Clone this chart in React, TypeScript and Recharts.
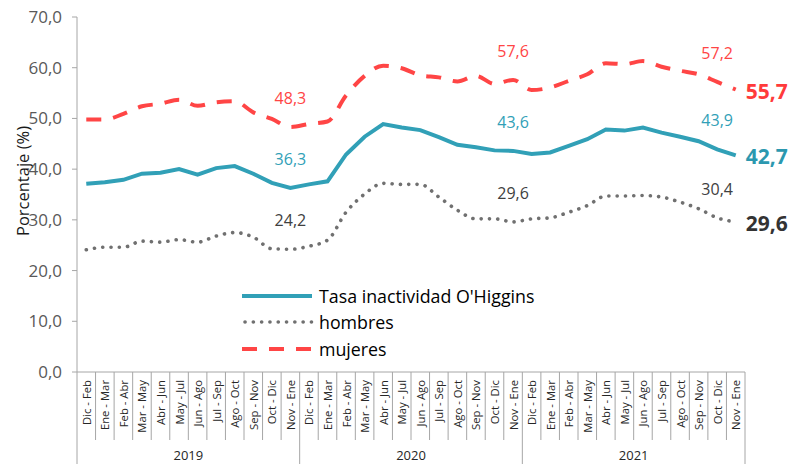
import React from "react";
import { LineChart, Line, XAxis, YAxis, Legend, LabelList } from "recharts";

const periods = [
  "Dic - Feb", "Ene - Mar", "Feb - Abr", "Mar - May", "Abr - Jun", "May - Jul",
  "Jun - Ago", "Jul - Sep", "Ago - Oct", "Sep - Nov", "Oct - Dic", "Nov - Ene",
];
const years = ["2019", "2020", "2021"];

const total = [
  37.1, 37.4, 37.9, 39.1, 39.3, 40.0, 38.9, 40.2, 40.6, 39.1, 37.3, 36.3,
  37.0, 37.6, 42.9, 46.4, 48.9, 48.2, 47.7, 46.3, 44.8, 44.3, 43.7, 43.6,
  43.0, 43.3, 44.6, 45.9, 47.8, 47.6, 48.2, 47.2, 46.4, 45.5, 43.9, 42.7,
];
const hombres = [
  24.1, 24.6, 24.6, 25.8, 25.6, 26.1, 25.6, 26.8, 27.5, 26.6, 24.3, 24.2,
  24.8, 26.0, 31.5, 35.1, 37.2, 37.0, 37.0, 34.5, 31.9, 30.2, 30.2, 29.6,
  30.2, 30.4, 31.5, 32.8, 34.7, 34.7, 34.8, 34.5, 33.5, 32.2, 30.4, 29.6,
];
const mujeres = [
  49.8, 49.8, 50.9, 52.4, 52.9, 53.7, 52.5, 53.2, 53.4, 51.2, 49.9, 48.3,
  48.9, 49.4, 54.5, 58.4, 60.4, 59.9, 58.5, 58.1, 57.3, 58.4, 56.8, 57.6,
  55.6, 56.1, 57.4, 58.7, 60.9, 60.7, 61.3, 60.2, 59.4, 58.7, 57.2, 55.7,
];
const yTicks = [0, 10, 20, 30, 40, 50, 60, 70];
const labelIdx = [11, 23, 34];
const lastIdx = 35;

const data = total.map((v, i) => ({
  key: years[Math.floor(i / 12)] + " " + periods[i % 12],
  period: periods[i % 12],
  year: years[Math.floor(i / 12)],
  total: v,
  hombres: hombres[i],
  mujeres: mujeres[i],
}));

const W = 799;
const H = 464;
const M = { top: 17, right: 54, left: 0, bottom: 0 };
const YW = 77;
const XH = 92;
const PLOT_W = W - YW - M.right;
const HALF = PLOT_W / data.length / 2;
const AXIS_Y = H - XH;
const GRID = "#A6A6A6";
const FONT = "'Open Sans', 'Noto Sans', sans-serif";

const BLUE = "#31A0B7";
const RED = "#FF4545";
const GRAY = "#707070";

const CatTick = (props: any) => {
  const { x, index } = props;
  const d = data[index];
  if (!d) return null;
  const left = x - HALF;
  const yearStart = index % 12 === 0;
  return (
    <g>
      <line x1={left} x2={left} y1={AXIS_Y} y2={yearStart ? H : 440} stroke={GRID} strokeWidth={1} />
      {index === data.length - 1 && (
        <line x1={x + HALF} x2={x + HALF} y1={AXIS_Y} y2={H} stroke={GRID} strokeWidth={1} />
      )}
      <text
        x={x}
        y={380}
        transform={`rotate(-90 ${x} 380)`}
        textAnchor="end"
        dominantBaseline="central"
        fontSize={11.3}
        fontFamily={FONT}
        fill="#262626"
      >
        {d.period}
      </text>
      {index % 12 === 5 && (
        <text x={x + HALF} y={455} textAnchor="middle" dominantBaseline="central" fontSize={13} fontFamily={FONT} fill="#262626">
          {d.year}
        </text>
      )}
    </g>
  );
};

const YLabel = () => (
  <text
    x={22}
    y={181}
    transform="rotate(-90 22 181)"
    textAnchor="middle"
    dominantBaseline="central"
    fontSize={16.5}
    fontFamily={FONT}
    fill="#1a1a1a"
  >
    Porcentaje (%)
  </text>
);

const makeLabel = (color: string, bigColor: string) => (props: any) => {
  const { x, y, index, value } = props;
  const txt = String(value.toFixed(1)).replace(".", ",");
  if (labelIdx.includes(index)) {
    return (
      <text x={x} y={y - 29} textAnchor="middle" dominantBaseline="central" fontSize={16} fontFamily={FONT} fill={color}>
        {txt}
      </text>
    );
  }
  if (index === lastIdx) {
    return (
      <text x={x + 10} y={y + 1} textAnchor="start" dominantBaseline="central" fontSize={21} fontWeight="bold" fontFamily={FONT} fill={bigColor}>
        {txt}
      </text>
    );
  }
  return null;
};

const legendItems = [
  { name: "Tasa inactividad O'Higgins", color: BLUE, dash: undefined as string | undefined, width: 4, cap: "butt" },
  { name: "hombres", color: GRAY, dash: "0.1 8.2", width: 3.6, cap: "round" },
  { name: "mujeres", color: RED, dash: "15 12", width: 4, cap: "butt" },
];

const LegendContent = () => (
  <div style={{ fontFamily: FONT }}>
    {legendItems.map((it) => (
      <div key={it.name} style={{ display: "flex", alignItems: "center", height: 26.3 }}>
        <svg width={77} height={10} style={{ display: "block" }}>
          <line
            x1={it.cap === "round" ? 3 : 0}
            x2={70}
            y1={5}
            y2={5}
            stroke={it.color}
            strokeWidth={it.width}
            strokeDasharray={it.dash}
            strokeLinecap={it.cap as any}
          />
        </svg>
        <span style={{ fontSize: 17.8, color: "#000", lineHeight: "20px" }}>{it.name}</span>
      </div>
    ))}
  </div>
);

export default function App() {
  return (
    <div style={{ position: "absolute", left: 0, top: 0, width: W, height: H, background: "#fff", overflow: "hidden" }}>
      <LineChart width={W} height={H} data={data} margin={M}>
        <XAxis
          dataKey="key"
          height={XH}
          interval={0}
          padding={{ left: HALF, right: HALF }}
          tick={<CatTick />}
          tickLine={false}
          axisLine={{ stroke: GRID }}
        />
        <YAxis
          width={YW}
          domain={[0, 70]}
          ticks={yTicks}
          interval={0}
          tickSize={5}
          tickMargin={10}
          tickLine={{ stroke: GRID }}
          axisLine={{ stroke: GRID }}
          tickFormatter={(v: number) => v.toFixed(1).replace(".", ",")}
          tick={{ fontSize: 17, fill: "#595959", fontFamily: FONT }}
          label={<YLabel />}
        />
        <Legend
          content={<LegendContent />}
          layout="horizontal"
          verticalAlign="middle"
          align="center"
          wrapperStyle={{ position: "absolute", left: 242, top: 283, width: 340 }}
        />
        <Line
          type="linear"
          dataKey="total"
          name="Tasa inactividad O'Higgins"
          stroke={BLUE}
          strokeWidth={4}
          dot={false}
          isAnimationActive={false}
        >
          <LabelList dataKey="total" content={makeLabel(BLUE, "#2B98AF")} />
        </Line>
        <Line
          type="monotone"
          dataKey="hombres"
          name="hombres"
          stroke={GRAY}
          strokeWidth={3.6}
          strokeDasharray="0.1 8.2"
          strokeLinecap="round"
          dot={false}
          isAnimationActive={false}
        >
          <LabelList dataKey="hombres" content={makeLabel("#404040", "#333333")} />
        </Line>
        <Line
          type="monotone"
          dataKey="mujeres"
          name="mujeres"
          stroke={RED}
          strokeWidth={4}
          strokeDasharray="15 12"
          dot={false}
          isAnimationActive={false}
        >
          <LabelList dataKey="mujeres" content={makeLabel(RED, "#FF3B3B")} />
        </Line>
      </LineChart>
    </div>
  );
}
